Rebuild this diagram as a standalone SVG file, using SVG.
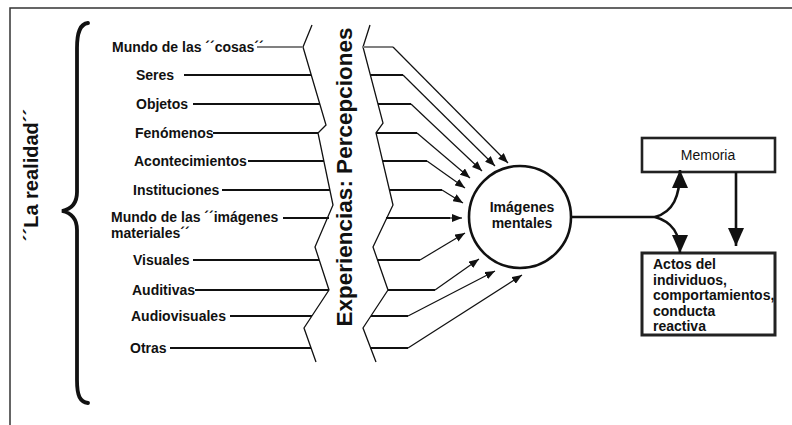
<svg xmlns="http://www.w3.org/2000/svg" width="792" height="425" viewBox="0 0 792 425">
<style>
.lbl{font-family:"Liberation Sans",Arial,sans-serif;font-weight:bold;font-size:14px;fill:#111}
.reg{font-family:"Liberation Sans",Arial,sans-serif;font-size:14px;fill:#111}
.hl{stroke:#111;stroke-width:2;fill:none}
.hg{stroke:#808080;stroke-width:2;fill:none}
.zz{stroke:#111;stroke-width:1.3;fill:none}
.dg{stroke:#111;stroke-width:1.2;fill:none;marker-end:url(#sa)}
.bk{stroke:#111;stroke-width:2.6;fill:none}
.ba{stroke:#111;stroke-width:2.6;fill:none;marker-end:url(#ba)}
</style>
<defs>
<marker id="sa" markerWidth="10" markerHeight="8" refX="10" refY="4" orient="auto" markerUnits="userSpaceOnUse"><path d="M0,0 L10,4 L0,8 z" fill="#111"/></marker>
<marker id="ba" markerWidth="18" markerHeight="16" refX="18" refY="8" orient="auto" markerUnits="userSpaceOnUse"><path d="M0,0 L18,8 L0,16 z" fill="#111"/></marker>
</defs>
<rect width="792" height="425" fill="#fff"/>
<g id="frame">
<path d="M10,425 L10,8 L792,8" stroke="#333" stroke-width="1.5" fill="none"/>
</g>
<g id="realidad">
<path d="M88,23 C80,24 77,32 77,48 L77,192 C77,203 72,209 62,211 C72,213 77,219 77,230 L77,380 C77,396 80,402 88,403" stroke="#111" stroke-width="3.8" fill="none" stroke-linecap="round"/>
<text class="lbl" style="font-size:20px" text-anchor="middle" transform="translate(38,175) rotate(-90)">´´La realidad´´</text>
</g>
<g id="labels">
<text class="lbl" x="112" y="52">Mundo de las ´´cosas´´</text>
<text class="lbl" x="136" y="80">Seres</text>
<text class="lbl" x="136" y="109">Objetos</text>
<text class="lbl" x="135" y="138">Fenómenos</text>
<text class="lbl" x="134" y="166">Acontecimientos</text>
<text class="lbl" x="133" y="195">Instituciones</text>
<text class="lbl" x="111" y="222">Mundo de las ´´imágenes</text>
<text class="lbl" x="111" y="238">materiales´´</text>
<text class="lbl" x="133" y="265">Visuales</text>
<text class="lbl" x="132" y="295">Auditivas</text>
<text class="lbl" x="131" y="321">Audiovisuales</text>
<text class="lbl" x="130" y="353">Otras</text>
</g>
<g id="experiencias">
<path class="zz" d="M312,25 L303,47 L326,125 L318,133 L333,205 L315,247 L329,290 L304,328 L316,362"/>
<path class="zz" d="M370,25 L363,47 L383,123 L376,133 L393,205 L373,247 L388,290 L363,328 L376,362"/>
<text class="lbl" style="font-size:22.5px" text-anchor="middle" transform="translate(352,177) rotate(-90)">Experiencias:  Percepciones</text>
</g>
<g id="imagenes">
<circle cx="520" cy="217" r="51" fill="#fff" stroke="#111" stroke-width="2.6"/>
<text class="lbl" x="522" y="212" text-anchor="middle">Imágenes</text>
<text class="lbl" x="522" y="228" text-anchor="middle">mentales</text>
</g>
<g id="memoria">
<rect x="642" y="138" width="133" height="34" fill="#fff" stroke="#222" stroke-width="2.6"/>
<text class="reg" x="708" y="160" text-anchor="middle">Memoria</text>
</g>
<g id="actos">
<rect x="642" y="253" width="133" height="82" fill="#fff" stroke="#222" stroke-width="3"/>
<text class="lbl" x="653" y="269">Actos del</text>
<text class="lbl" x="653" y="284.5">individuos,</text>
<text class="lbl" x="653" y="300">comportamientos,</text>
<text class="lbl" x="653" y="315.5">conducta</text>
<text class="lbl" x="653" y="331">reactiva</text>
</g>
<g id="connectors">
<path class="hg" d="M257,47 L303,47"/>
<path class="hl" d="M184,75 L311,75"/>
<path class="hl" d="M193,104 L320,104"/>
<path class="hl" d="M213,133 L318,133"/>
<path class="hl" d="M248,161 L324,161"/>
<path class="hl" d="M222,190 L330,190"/>
<path class="hl" d="M283,218 L329,218"/>
<path class="hl" d="M193,260 L319,260"/>
<path class="hl" d="M195,290 L329,290"/>
<path class="hl" d="M230,316 L312,316"/>
<path class="hl" d="M170,348 L311,348"/>
<path class="hg" d="M363,47 L393,47"/>
<path class="dg" d="M393,47 L508,163"/>
<path class="hl" d="M370,75 L403,75"/>
<path class="dg" d="M403,75 L495,166"/>
<path class="hl" d="M378,104 L411,104"/>
<path class="dg" d="M411,104 L482,171"/>
<path class="hl" d="M376,133 L417,133"/>
<path class="dg" d="M417,133 L470,178"/>
<path class="hl" d="M383,161 L427,161"/>
<path class="dg" d="M427,161 L465,188"/>
<path class="hl" d="M389,190 L442,190"/>
<path class="dg" d="M442,190 L463,203"/>
<path class="hl" d="M386,218 L450,218"/>
<path class="dg" d="M449,218 L462,218"/>
<path class="hl" d="M377,260 L420,260"/>
<path class="dg" d="M420,260 L465,233"/>
<path class="hl" d="M388,290 L435,290"/>
<path class="dg" d="M435,290 L479,259"/>
<path class="hl" d="M371,316 L408,316"/>
<path class="dg" d="M408,316 L495,271"/>
<path class="hl" d="M370,348 L408,348"/>
<path class="dg" d="M408,348 L522,275"/>
<path class="bk" d="M571,217 L655,217"/>
<path class="ba" d="M655,217 C673,212 680,197 680,170"/>
<path class="ba" d="M655,217 C673,222 680,234 680,253"/>
<path class="ba" d="M736,172 L736,246"/>
</g>
</svg>
